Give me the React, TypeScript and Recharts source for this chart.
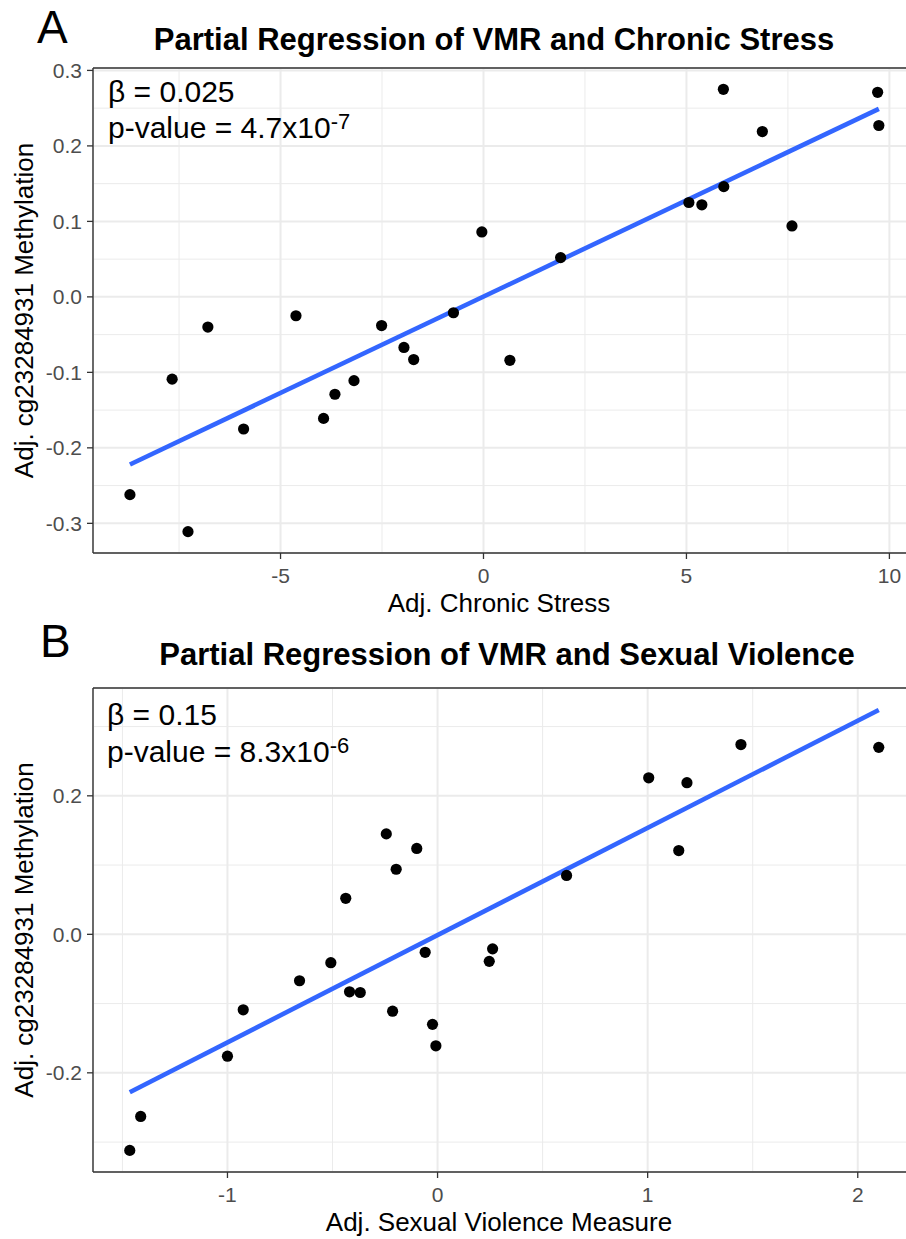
import React from 'react';
import { ScatterChart, Scatter, XAxis, YAxis, CartesianGrid, ReferenceLine } from 'recharts';

// Panel A: adjusted chronic stress vs methylation
const chronicStress = [-8.71, -7.67, -7.28, -6.79, -5.91, -4.62, -3.94, -3.66, -3.19, -2.51, -1.96, -1.72, -0.74, -0.04, 0.65, 1.9, 5.06, 5.38, 5.91, 5.92, 6.87, 7.6, 9.71, 9.74];
const methylationA = [-0.262, -0.109, -0.311, -0.04, -0.175, -0.025, -0.161, -0.129, -0.111, -0.038, -0.067, -0.083, -0.021, 0.086, -0.084, 0.052, 0.125, 0.122, 0.275, 0.146, 0.219, 0.094, 0.271, 0.227];
const fitA = [{ x: -8.71, y: -0.222 }, { x: 9.74, y: 0.249 }];

// Panel B: adjusted sexual violence measure vs methylation
const sexualViolence = [-1.465, -1.413, -1.0, -0.925, -0.657, -0.508, -0.437, -0.419, -0.368, -0.244, -0.214, -0.197, -0.099, -0.059, -0.024, -0.008, 0.246, 0.262, 0.614, 1.005, 1.148, 1.187, 1.444, 2.1];
const methylationB = [-0.312, -0.263, -0.176, -0.109, -0.067, -0.041, 0.052, -0.083, -0.084, 0.145, -0.111, 0.094, 0.124, -0.026, -0.13, -0.161, -0.039, -0.021, 0.085, 0.226, 0.121, 0.219, 0.274, 0.27];
const fitB = [{ x: -1.465, y: -0.228 }, { x: 2.1, y: 0.324 }];

const ticksAx = [-5, 0, 5, 10];
const ticksAy = [-0.3, -0.2, -0.1, 0, 0.1, 0.2, 0.3];
const minorAx = [-7.5, -2.5, 2.5, 7.5];
const minorAy = [-0.25, -0.15, -0.05, 0.05, 0.15, 0.25];

const ticksBx = [-1, 0, 1, 2];
const ticksBy = [-0.2, 0, 0.2];
const minorBx = [-1.5, -0.5, 0.5, 1.5];
const minorBy = [-0.3, -0.1, 0.1, 0.3];

const FONT = '"Liberation Sans", Arial, Helvetica, sans-serif';

const zip = (xs: number[], ys: number[]) => xs.map((x, i) => ({ x, y: ys[i] }));

type PanelProps = {
  top: number;
  height: number;
  data: { x: number; y: number }[];
  fit: { x: number; y: number }[];
  xDomain: [number, number];
  yDomain: [number, number];
  xTicks: number[];
  yTicks: number[];
  xMinor: number[];
  yMinor: number[];
  xLabel: string;
};

const Dot = (props: any) => <circle cx={props.cx} cy={props.cy} r={5.6} fill="#000" />;

// the plot panel runs past the right edge of the picture, as in the original export
function Panel(p: PanelProps) {
  const tickStyle = { fill: '#4d4d4d', fontSize: 21, fontFamily: FONT };
  const border = { stroke: '#333', strokeWidth: 1.4 };
  return (
    <div style={{ position: 'absolute', left: 0, top: p.top, width: 918 }}>
      <ScatterChart width={918} height={p.height} margin={{ top: 68, right: 1, bottom: 7, left: 0 }}>
        <CartesianGrid stroke="#ebebeb" strokeWidth={1} horizontalValues={p.yMinor} verticalValues={p.xMinor} />
        <CartesianGrid stroke="#ebebeb" strokeWidth={2} />
        <XAxis
          type="number"
          dataKey="x"
          domain={p.xDomain}
          allowDataOverflow
          ticks={p.xTicks}
          height={60}
          tickSize={6}
          tickMargin={9}
          axisLine={border}
          tickLine={{ stroke: '#333', strokeWidth: 1.3 }}
          tick={tickStyle}
          label={{
            content: ({ viewBox }: any) => (
              <text x={499} y={viewBox.y + 59} textAnchor="middle" fontSize={26} fontFamily={FONT} fill="#000">
                {p.xLabel}
              </text>
            ),
          }}
        />
        <YAxis
          type="number"
          dataKey="y"
          domain={p.yDomain}
          allowDataOverflow
          ticks={p.yTicks}
          width={93}
          tickSize={6}
          tickMargin={5}
          axisLine={border}
          tickLine={{ stroke: '#333', strokeWidth: 1.3 }}
          tick={tickStyle}
          tickFormatter={(v: number) => v.toFixed(1)}
          label={{
            content: ({ viewBox }: any) => {
              const cx = 33;
              const cy = viewBox.y + viewBox.height / 2;
              return (
                <text x={cx} y={cy} transform={`rotate(-90 ${cx} ${cy})`} textAnchor="middle" fontSize={26} fontFamily={FONT} fill="#000">
                  Adj. cg23284931 Methylation
                </text>
              );
            },
          }}
        />
        <ReferenceLine y={p.yDomain[1]} stroke="#333" strokeWidth={1.4} />
        <Scatter data={p.data} fill="#000" shape={Dot} isAnimationActive={false} />
        <ReferenceLine segment={p.fit} stroke="#3366ff" strokeWidth={4.6} />
      </ScatterChart>
    </div>
  );
}

export default function App() {
  const txt = { fontFamily: FONT, fill: '#000' };
  return (
    <div style={{ position: 'absolute', left: 0, top: 0, width: 906, height: 1239, background: '#fff', overflow: 'hidden' }}>
      <Panel
        top={0}
        height={620}
        data={zip(chronicStress, methylationA)}
        fit={fitA}
        xDomain={[-9.62, 10.68]}
        yDomain={[-0.3393, 0.3032]}
        xTicks={ticksAx}
        yTicks={ticksAy}
        xMinor={minorAx}
        yMinor={minorAy}
        xLabel="Adj. Chronic Stress"
      />
      <Panel
        top={620}
        height={619}
        data={zip(sexualViolence, methylationB)}
        fit={fitB}
        xDomain={[-1.64, 2.282]}
        yDomain={[-0.3432, 0.3557]}
        xTicks={ticksBx}
        yTicks={ticksBy}
        xMinor={minorBx}
        yMinor={minorBy}
        xLabel="Adj. Sexual Violence Measure"
      />
      <svg width={906} height={1239} style={{ position: 'absolute', left: 0, top: 0, pointerEvents: 'none' }}>
        <text x={37} y={43} fontSize={46} {...txt}>A</text>
        <text x={494} y={50} fontSize={31} fontWeight="bold" textAnchor="middle" {...txt}>
          Partial Regression of VMR and Chronic Stress
        </text>
        <text x={108} y={102} fontSize={30} {...txt}>β = 0.025</text>
        <text x={108} y={138} fontSize={30} {...txt}>
          p-value = 4.7x10<tspan dy={-9} fontSize={22}>-7</tspan>
        </text>

        <text x={40} y={657} fontSize={46} {...txt}>B</text>
        <text x={507} y={665} fontSize={31} fontWeight="bold" textAnchor="middle" {...txt}>
          Partial Regression of VMR and Sexual Violence
        </text>
        <text x={107} y={725} fontSize={30} {...txt}>β = 0.15</text>
        <text x={107} y={762} fontSize={30} {...txt}>
          p-value = 8.3x10<tspan dy={-9} fontSize={22}>-6</tspan>
        </text>
      </svg>
    </div>
  );
}
